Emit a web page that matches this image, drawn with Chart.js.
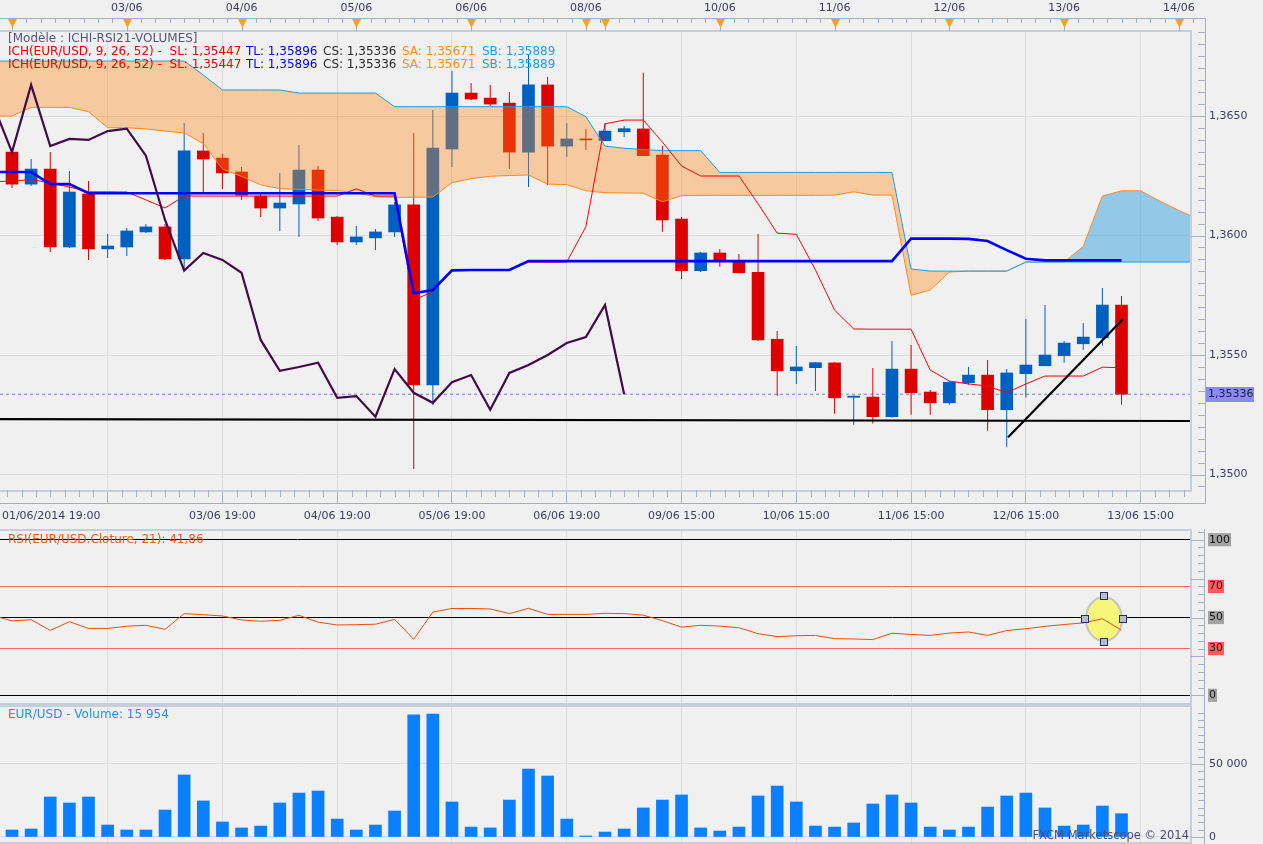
<!DOCTYPE html>
<html>
<head>
<meta charset="utf-8">
<title>EUR/USD - ICHI-RSI21-VOLUMES</title>
<script src="https://cdn.jsdelivr.net/npm/chart.js@4.4.0/dist/chart.umd.min.js"></script>
<style>
  html, body { margin:0; padding:0; background:#f0f0f0; width:1263px; height:844px; overflow:hidden; }
  canvas { position:absolute; left:0; display:block; }
  #cMain { top:0; }
  #cRsi { top:529px; }
  #cVol { top:705px; }
</style>
</head>
<body>
<canvas id="cMain" width="1263" height="529" style="width:1263px;height:529px"></canvas>
<canvas id="cRsi" width="1263" height="176" style="width:1263px;height:176px"></canvas>
<canvas id="cVol" width="1263" height="139" style="width:1263px;height:139px"></canvas>
<script>
// ================= DATA (4h candles, index 0 = first visible candle) =================
const opens  = [1.36349,1.36215,1.36278,1.35952,1.36174,1.35944,1.35952,1.36015,1.36036,1.35902,
                1.36354,1.36324,1.36266,1.36165,1.36115,1.36132,1.36274,1.36077,1.35973,1.35990,
                1.36015,1.36128,1.35375,1.36362,1.36596,1.36575,1.36554,1.36349,1.36630,1.36374,
                1.36404,1.36397,1.36434,1.36446,1.36337,1.36069,1.35853,1.35927,1.35893,1.35846,
                1.35566,1.35434,1.35447,1.35467,1.35323,1.35324,1.35242,1.35441,1.35345,1.35300,
                1.35384,1.35416,1.35271,1.35422,1.35455,1.35497,1.35547,1.35572,1.35709];
const highs  = [1.36362,1.36320,1.36349,1.36270,1.36228,1.36006,1.36031,1.36048,1.36048,1.36471,
                1.36429,1.36341,1.36287,1.36174,1.36262,1.36379,1.36291,1.36082,1.36040,1.36027,
                1.36140,1.36429,1.36525,1.36688,1.36638,1.36630,1.36600,1.36755,1.36663,1.36471,
                1.36446,1.36471,1.36458,1.36681,1.36376,1.36077,1.35931,1.35944,1.35923,1.36006,
                1.35600,1.35538,1.35471,1.35471,1.35331,1.35446,1.35559,1.35542,1.35354,1.35391,
                1.35450,1.35479,1.35441,1.35651,1.35709,1.35559,1.35634,1.35780,1.35747];
const lows   = [1.36199,1.36207,1.35931,1.35948,1.35898,1.35906,1.35914,1.36010,1.35898,1.35856,
                1.36182,1.36195,1.36149,1.36077,1.36019,1.35994,1.36061,1.35960,1.35960,1.35939,
                1.35994,1.35023,1.35291,1.36287,1.36567,1.36542,1.36278,1.36203,1.36211,1.36328,
                1.36358,1.36395,1.36412,1.36333,1.36016,1.35818,1.35847,1.35869,1.35843,1.35559,
                1.35330,1.35379,1.35349,1.35254,1.35208,1.35213,1.35238,1.35250,1.35250,1.35292,
                1.35376,1.35183,1.35116,1.35321,1.35455,1.35468,1.35522,1.35539,1.35292];
const closes = [1.36215,1.36278,1.35952,1.36182,1.35944,1.35956,1.36019,1.36036,1.35902,1.36354,
                1.36320,1.36262,1.36169,1.36115,1.36136,1.36274,1.36073,1.35973,1.35994,1.36015,
                1.36128,1.35375,1.36366,1.36596,1.36571,1.36550,1.36349,1.36630,1.36374,1.36404,
                1.36400,1.36437,1.36447,1.36334,1.36065,1.35853,1.35927,1.35898,1.35844,1.35563,
                1.35434,1.35450,1.35468,1.35321,1.35328,1.35242,1.35441,1.35342,1.35300,1.35386,
                1.35416,1.35271,1.35425,1.35458,1.35500,1.35550,1.35575,1.35709,1.35336];
const volumes = [4800,5500,27400,23300,27400,8200,4800,4800,18500,42500,
                 24700,10300,6200,7500,23300,30100,31500,12300,4800,8200,
                 17800,83600,84200,24000,6800,6200,25300,46600,41800,12300,
                 700,3400,5500,19900,25300,28800,6200,4100,6800,28100,
                 34900,24000,7500,6800,9600,22600,28800,23300,6800,4800,
                 6800,20500,28100,30100,19900,7500,8200,21200,15954];
// series below start one bar before the first visible candle (index -1)
const rsi21 = [51.3,
               47.8,48.6,41.7,47.3,43.0,43.0,44.4,45.0,42.4,52.5,
               51.8,51.0,48.4,47.6,48.2,51.4,47.0,45.2,45.4,45.7,
               48.8,36.0,53.5,55.8,55.8,55.5,52.5,55.9,52.0,52.0,
               52.0,52.7,52.5,51.5,48.0,43.8,45.0,44.5,43.4,39.6,
               37.7,38.3,38.5,36.4,36.2,35.8,39.9,39.1,38.5,40.0,
               40.7,38.5,41.6,42.8,44.3,45.5,46.5,49.2,41.86];
const tenkanTL = [1.36266,1.36266,1.36266,1.36215,1.36215,1.36177,
                  1.36177,1.36177,1.36177,1.36177,1.36177,1.36177,1.36177,1.36177,
                  1.36177,1.36177,1.36177,1.36177,1.36177,1.36177,1.36177,1.36177,
                  1.35758,1.35772,1.35854,1.35856,1.35856,1.35856,
                  1.35893,1.35893,1.35893,1.35893,1.35893,1.35893,1.35893,1.35893,1.35893,1.35893,
                  1.35893,1.35893,1.35893,1.35893,1.35893,1.35893,1.35893,1.35893,1.35893,1.35893,
                  1.35987,1.35987,1.35987,1.35986,1.35977,1.35939,1.35903,
                  1.35896,1.35896,1.35896,1.35896,1.35896];
const kijunSL = [1.36225,1.36228,1.36234,1.36220,1.36203,1.36183,1.36183,1.36182,1.36149,1.36115,1.36165,
                 1.36165,1.36165,1.36165,1.36165,1.36165,1.36165,1.36165,1.36165,
                 1.36195,1.36165,1.36165,
                 1.35730,1.35765,1.35854,1.35856,1.35856,1.35856,
                 1.35889,1.35889,1.35889,
                 1.36037,1.36467,1.36483,1.36483,1.36391,1.36291,
                 1.36249,1.36249,1.36249,
                 1.36133,1.36010,1.36005,1.35856,1.35688,1.35609,
                 1.35608,1.35608,1.35608,
                 1.35437,1.35391,1.35379,1.35370,1.35342,1.35379,
                 1.35412,1.35412,1.35412,
                 1.35449,1.35447];
const chikouCS = [1.36550,1.36349,1.36630,1.36374,1.36404,1.36400,1.36437,1.36447,1.36334,1.36065,
                  1.35853,1.35927,1.35898,1.35844,1.35563,1.35434,1.35450,1.35468,1.35321,1.35328,
                  1.35242,1.35441,1.35342,1.35300,1.35386,1.35416,1.35271,1.35425,1.35458,1.35500,
                  1.35550,1.35575,1.35709,1.35336];
const senkouSA = [1.36500,1.36500,1.36536,1.36536,1.36536,1.36518,1.36451,1.36451,1.36446,1.36437,1.36429,
                  1.36385,1.36278,1.36247,1.36212,1.36196,1.36193,1.36190,1.36188,1.36178,1.36162,
                  1.36160,1.36160,1.36161,1.36221,1.36238,1.36248,1.36251,1.36253,1.36215,1.36213,
                  1.36187,1.36179,1.36178,1.36177,1.36141,1.36167,1.36168,1.36168,1.36168,1.36168,
                  1.36168,1.36168,1.36168,1.36169,1.36183,1.36169,1.36169,1.35750,1.35772,1.35847,
                  1.35851,1.35851,1.35851,1.35889,1.35889,1.35889,1.35954,1.36165,1.36187,1.36187,
                  1.36144,1.36105,1.36069];
const senkouSB = [1.36730,1.36730,1.36730,1.36730,1.36730,1.36730,1.36730,1.36730,1.36730,1.36730,1.36730,
                  1.36672,
                  1.36609,1.36609,1.36609,1.36609,
                  1.36596,1.36596,1.36596,1.36596,1.36596,
                  1.36539,1.36539,1.36539,1.36539,1.36539,1.36539,1.36539,1.36539,1.36539,1.36539,
                  1.36497,1.36374,1.36365,1.36360,
                  1.36355,1.36355,1.36355,
                  1.36264,1.36264,1.36264,1.36264,1.36264,1.36264,1.36264,1.36264,1.36264,1.36264,
                  1.35860,
                  1.35851,1.35851,1.35851,1.35851,1.35851,
                  1.35889,1.35889,1.35889,1.35889,1.35889,1.35889,1.35889,1.35889,1.35889,1.35889];
const lastClose = 1.35336;
const supportLineX = [-0.627, 61.58];
const supportLineY = [1.35232, 1.35224];
const trendLineX = [52.07, 58.07];
const trendLineY = [1.351556, 1.356494];
const legendValues = { SL:'1,35447', TL:'1,35896', CS:'1,35336', SA:'1,35671', SB:'1,35889' };

// axis ticks & labels
const priceTicks = [1.3500, 1.3550, 1.3600, 1.3650];
const bottomTickPos = [2.05, 5, 11, 17, 23, 29, 35, 41, 47, 53, 59];
const bottomTickLabels = ['01/06/2014 19:00', '', '03/06 19:00', '04/06 19:00', '05/06 19:00', '06/06 19:00',
                          '09/06 15:00', '10/06 15:00', '11/06 15:00', '12/06 15:00', '13/06 15:00'];
const gridPos = [5, 11, 17, 23, 29, 35, 41, 47, 53, 59];
const dayMarkerPos = [0, 6, 12, 18, 24, 30, 31, 37, 43, 49, 55, 61];
const dayMarkerLabels = ['', '03/06', '04/06', '05/06', '06/06', '08/06', '', '10/06', '11/06', '12/06', '13/06', '14/06'];
const rsiLevels = [0, 30, 50, 70, 100];
const volumeTicks = [0, 50000];
const rsiHighlight = { x: 57.08, y: 49.0 };

// ================= STYLE =================
const X_MIN = -0.627, X_MAX = 61.58;
const Y_MIN = 1.349352, Y_MAX = 1.368515;
const RSI_MIN = -4.95, RSI_MAX = 105.6;
const VOL_MIN = -3425, VOL_MAX = 89041;
const LABEL_COLOR = '#3c3c64';
const GRID = '#dcdcdf';
const AXIS = '#a4b0c2';
const FRAME = '#c6cedb';
const BULL = '#0060c0', BEAR = '#dc0000';
const FONT = "'DejaVu Sans', Verdana, sans-serif";

Chart.defaults.font.family = FONT;
Chart.defaults.font.size = 11;
Chart.defaults.color = LABEL_COLOR;

function pts(arr, start) { return arr.map((v, k) => ({ x: start + k, y: v })); }
function fixSize(w, h) {
  return (s) => {
    if (w !== null) s.width = w;
    if (h !== null) s.height = h;
    s.paddingLeft = 0; s.paddingRight = 0; s.paddingTop = 0; s.paddingBottom = 0;
  };
}
function fmtThousands(v) { return String(v).replace(/\B(?=(\d{3})+(?!\d))/g, ' '); }
function drawFrame(g, a) {
  g.save();
  g.strokeStyle = FRAME; g.lineWidth = 2;
  g.beginPath();
  g.moveTo(0, a.top - 1); g.lineTo(a.right + 1, a.top - 1);
  g.lineTo(a.right + 1, a.bottom + 1); g.lineTo(0, a.bottom + 1);
  g.stroke();
  g.restore();
}
const bgPlugin = {
  id: 'bg',
  beforeDraw(c) { const g = c.ctx; g.save(); g.fillStyle = '#f0f0f0'; g.fillRect(0, 0, c.width, c.height); g.restore(); }
};

// ================= MAIN PANEL =================
const candleColors = opens.map((o, i) => closes[i] >= o ? BULL : BEAR);

const mainDeco = {
  id: 'mainDeco',
  afterDraw(c) {
    const g = c.ctx, xs = c.scales.x, ys = c.scales.y, a = c.chartArea;
    drawFrame(g, a);
    g.save();
    g.strokeStyle = AXIS; g.lineWidth = 1;
    g.beginPath();
    g.moveTo(0, 18.5); g.lineTo(1205.5, 18.5);
    g.moveTo(1205.5, 18); g.lineTo(1205.5, 504);
    g.moveTo(0, 503.5); g.lineTo(1205.5, 503.5);
    // top minor ticks (every 3h)
    for (let k = 0; k < dayMarkerPos.length; k++) {
      const s = dayMarkerPos[k];
      const e = k + 1 < dayMarkerPos.length ? dayMarkerPos[k + 1] : X_MAX + 1;
      for (let j = 1; s + 0.75 * j < e - 0.05; j++) {
        const px = Math.round(xs.getPixelForValue(s + 0.75 * j)) + 0.5;
        if (px > 1204) break;
        g.moveTo(px, 18); g.lineTo(px, 23);
      }
    }
    // bottom minor ticks
    for (let j = 0; j < 100; j++) {
      const t = -1 + 0.75 * j;
      if (t > X_MAX) break;
      if (t < X_MIN) continue;
      if (j % 8 === 0) continue;
      const px = Math.round(xs.getPixelForValue(t)) + 0.5;
      g.moveTo(px, a.bottom); g.lineTo(px, a.bottom + 7);
    }
    // right price ticks
    for (let k = 13490; k <= 13690; k += 5) {
      const yy = Math.round(ys.getPixelForValue(k / 10000)) + 0.5;
      if (yy < a.top || yy > a.bottom) continue;
      g.moveTo(k % 50 === 0 ? a.right + 1 : 1198, yy); g.lineTo(1205, yy);
    }
    // day marker stems
    dayMarkerPos.forEach(v => { const px = Math.round(xs.getPixelForValue(v)) + 0.5; g.moveTo(px, 26); g.lineTo(px, 31); });
    g.stroke();
    // day marker triangles
    g.fillStyle = '#f7a21e';
    dayMarkerPos.forEach(v => {
      const px = Math.round(xs.getPixelForValue(v)) + 0.5;
      g.beginPath(); g.moveTo(px - 4.5, 19); g.lineTo(px + 4.5, 19); g.lineTo(px, 28); g.closePath(); g.fill();
    });
    // legend
    g.font = '12px ' + FONT; g.textBaseline = 'middle'; g.textAlign = 'left';
    g.fillStyle = '#55557c';
    g.fillText('[Modèle : ICHI-RSI21-VOLUMES]', 8, 39);
    const parts = [
      { t: 'ICH(EUR/USD, 9, 26, 52) -  SL: ' + legendValues.SL, x: 8, c: '#ee0000' },
      { t: 'TL: ' + legendValues.TL, x: 246, c: '#0000ee' },
      { t: 'CS: ' + legendValues.CS, x: 323, c: '#2a2a2a' },
      { t: 'SA: ' + legendValues.SA, x: 402, c: '#ff8c1a' },
      { t: 'SB: ' + legendValues.SB, x: 482, c: '#1ea0f0' }
    ];
    [52, 65].forEach(yy => parts.forEach(p => { g.fillStyle = p.c; g.fillText(p.t, p.x, yy); }));
    // last price label
    g.font = '11px ' + FONT;
    const py = ys.getPixelForValue(lastClose);
    g.fillStyle = '#8a8af2'; g.fillRect(1206, Math.round(py) - 7, 48, 15);
    g.fillStyle = '#1a1a4a'; g.fillText(lastClose.toFixed(5).replace('.', ','), 1208, Math.round(py) + 0.5);
    g.restore();
  }
};

new Chart(document.getElementById('cMain'), {
  type: 'line',
  data: {
    datasets: [
      { type: 'bar', label: 'wick', data: opens.map((_, i) => ({ x: i, y: [lows[i], highs[i]] })),
        backgroundColor: candleColors, barThickness: 1, maxBarThickness: 1, grouped: false, borderWidth: 0, inflateAmount: 0, order: 20 },
      { type: 'bar', label: 'body', data: opens.map((_, i) => ({ x: i, y: [opens[i], closes[i]] })),
        backgroundColor: candleColors, barThickness: 12, maxBarThickness: 12, grouped: false, borderWidth: 0, minBarLength: 1, order: 19 },
      { type: 'line', label: 'SB', data: pts(senkouSB, -1), borderColor: '#1c9fe6', borderWidth: 1, pointRadius: 0, tension: 0, fill: false, order: 9 },
      { type: 'line', label: 'SA', data: pts(senkouSA, -1), borderColor: '#ff8a1e', borderWidth: 1, pointRadius: 0, tension: 0,
        fill: { target: 2, above: 'rgba(70,170,225,0.55)', below: 'rgba(255,138,25,0.38)' }, order: 10 },
      { type: 'line', label: 'close', data: [{ x: X_MIN, y: lastClose }, { x: X_MAX, y: lastClose }],
        borderColor: '#7a7aea', borderWidth: 1, borderDash: [3, 3], pointRadius: 0, fill: false, order: 21 },
      { type: 'line', label: 'SL', data: pts(kijunSL, -1), borderColor: '#ff0000', borderWidth: 1, pointRadius: 0, tension: 0, fill: false, order: 5 },
      { type: 'line', label: 'TL', data: pts(tenkanTL, -1), borderColor: '#0000ff', borderWidth: 2.6, pointRadius: 0, tension: 0, fill: false, order: 4 },
      { type: 'line', label: 'CS', data: pts(chikouCS, -1), borderColor: '#420a48', borderWidth: 2.2, pointRadius: 0, tension: 0, fill: false, order: 3 },
      { type: 'line', label: 'support', data: supportLineX.map((x, k) => ({ x, y: supportLineY[k] })), borderColor: '#000000', borderWidth: 2.2, pointRadius: 0, fill: false, order: 2 },
      { type: 'line', label: 'trend', data: trendLineX.map((x, k) => ({ x, y: trendLineY[k] })), borderColor: '#000000', borderWidth: 2.2, pointRadius: 0, fill: false, order: 1 }
    ]
  },
  options: {
    responsive: false, animation: false, events: [],
    layout: { padding: 0 },
    plugins: { legend: { display: false }, tooltip: { enabled: false } },
    scales: {
      x: {
        type: 'linear', position: 'bottom', min: X_MIN, max: X_MAX, offset: false,
        afterBuildTicks: s => { s.ticks = bottomTickPos.map(v => ({ value: v })); },
        afterFit: fixSize(null, 39),
        ticks: { autoSkip: false, maxRotation: 0, minRotation: 0, padding: 7, color: LABEL_COLOR, callback: (v, k) => bottomTickLabels[k] },
        grid: { offset: false, lineWidth: 1, tickLength: 13, drawTicks: true,
                color: c => c.index === 0 ? 'rgba(0,0,0,0)' : GRID,
                tickColor: c => c.index === 0 ? 'rgba(0,0,0,0)' : AXIS },
        border: { display: false }
      },
      x2: {
        type: 'linear', position: 'top', min: X_MIN, max: X_MAX, offset: false,
        afterBuildTicks: s => { s.ticks = dayMarkerPos.map(v => ({ value: v })); },
        afterFit: fixSize(null, 32),
        ticks: { autoSkip: false, maxRotation: 0, minRotation: 0, padding: 17, color: LABEL_COLOR, callback: (v, k) => dayMarkerLabels[k] },
        grid: { display: false, drawTicks: false },
        border: { display: false }
      },
      y: {
        position: 'right', min: Y_MIN, max: Y_MAX,
        afterBuildTicks: s => { s.ticks = priceTicks.map(v => ({ value: v })); },
        afterFit: fixSize(73, null),
        ticks: { padding: 19, color: LABEL_COLOR, callback: v => v.toFixed(4).replace('.', ',') },
        grid: { color: GRID, drawTicks: false, lineWidth: 1 },
        border: { display: false }
      }
    }
  },
  plugins: [bgPlugin, mainDeco]
});

// ================= RSI PANEL =================
const rsiDeco = {
  id: 'rsiDeco',
  beforeDatasetsDraw(c) {
    const g = c.ctx, xs = c.scales.x, ys = c.scales.y;
    const cx = xs.getPixelForValue(rsiHighlight.x), cy = ys.getPixelForValue(rsiHighlight.y);
    g.save();
    g.beginPath(); g.ellipse(cx, cy, 18, 22, 0, 0, Math.PI * 2);
    g.fillStyle = '#f6f67a'; g.fill();
    g.strokeStyle = '#c4c4c4'; g.lineWidth = 2; g.stroke();
    g.restore();
  },
  afterDraw(c) {
    const g = c.ctx, xs = c.scales.x, ys = c.scales.y, a = c.chartArea;
    drawFrame(g, a);
    g.save();
    g.strokeStyle = AXIS; g.lineWidth = 1;
    g.beginPath();
    g.moveTo(1204.5, a.top - 2); g.lineTo(1204.5, a.bottom + 2);
    for (let v = 0; v <= 105; v += 5) {
      const yy = Math.round(ys.getPixelForValue(v)) + 0.5;
      g.moveTo(v % 25 === 0 ? a.right + 1 : 1198, yy); g.lineTo(1204.5, yy);
    }
    g.stroke();
    g.font = '12px ' + FONT; g.textBaseline = 'middle'; g.textAlign = 'left';
    g.fillStyle = '#e8581e';
    g.fillText('RSI(EUR/USD.Cloture, 21): ' + rsi21[rsi21.length - 1].toFixed(2).replace('.', ','), 8, a.top + 9);
    // highlight handles
    const cx = xs.getPixelForValue(rsiHighlight.x), cy = ys.getPixelForValue(rsiHighlight.y);
    g.fillStyle = '#b9bccb'; g.strokeStyle = '#2c2c5c';
    [[0, -23], [0, 23], [-19, 0], [19, 0]].forEach(([dx, dy]) => {
      const hx = Math.round(cx + dx) - 3.5, hy = Math.round(cy + dy) - 3.5;
      g.fillRect(hx, hy, 7, 7); g.strokeRect(hx, hy, 7, 7);
    });
    g.restore();
  }
};

new Chart(document.getElementById('cRsi'), {
  type: 'line',
  data: { datasets: [
    { label: 'RSI', data: pts(rsi21, -1), borderColor: '#e85010', borderWidth: 1, pointRadius: 0, tension: 0, fill: false }
  ] },
  options: {
    responsive: false, animation: false, events: [],
    layout: { padding: { top: 2, bottom: 2, left: 0, right: 0 } },
    plugins: { legend: { display: false }, tooltip: { enabled: false } },
    scales: {
      x: {
        type: 'linear', min: X_MIN, max: X_MAX, offset: false,
        afterBuildTicks: s => { s.ticks = gridPos.map(v => ({ value: v })); },
        afterFit: fixSize(null, 0),
        ticks: { display: false },
        grid: { color: GRID, drawTicks: false, offset: false },
        border: { display: false }
      },
      y: {
        position: 'right', min: RSI_MIN, max: RSI_MAX,
        afterBuildTicks: s => { s.ticks = rsiLevels.map(v => ({ value: v })); },
        afterFit: fixSize(73, null),
        ticks: {
          padding: 19, color: '#141414', showLabelBackdrop: true,
          backdropColor: c => (c.tick && (c.tick.value === 30 || c.tick.value === 70)) ? '#ff5b5b' : '#a3a3a3',
          backdropPadding: { top: 0, bottom: 0, left: 1, right: 1 },
          callback: v => String(v)
        },
        grid: {
          color: c => (c.tick && (c.tick.value === 30 || c.tick.value === 70)) ? '#f26a6a' : '#000000',
          drawTicks: false, lineWidth: 1
        },
        border: { display: false }
      }
    }
  },
  plugins: [bgPlugin, rsiDeco]
});

// ================= VOLUME PANEL =================
const volDeco = {
  id: 'volDeco',
  afterDraw(c) {
    const g = c.ctx, ys = c.scales.y, a = c.chartArea;
    drawFrame(g, a);
    g.save();
    g.strokeStyle = AXIS; g.lineWidth = 1;
    g.beginPath();
    g.moveTo(1204.5, a.top - 2); g.lineTo(1204.5, a.bottom + 2);
    for (let v = 0; v <= 85000; v += 5000) {
      const yy = Math.round(ys.getPixelForValue(v)) + 0.5;
      if (yy < a.top) continue;
      g.moveTo(v % 50000 === 0 ? a.right + 1 : 1198, yy); g.lineTo(1204.5, yy);
    }
    g.stroke();
    g.font = '12px ' + FONT; g.textBaseline = 'middle';
    g.textAlign = 'left'; g.fillStyle = '#2e8cf0';
    g.fillText('EUR/USD - Volume: ' + fmtThousands(volumes[volumes.length - 1]), 8, a.top + 8);
    g.font = '11.5px ' + FONT;
    g.textAlign = 'right'; g.fillStyle = '#4a4a6c';
    g.fillText('FXCM Marketscope © 2014', a.right - 1, a.bottom - 6);
    g.restore();
  }
};

new Chart(document.getElementById('cVol'), {
  type: 'bar',
  data: { datasets: [
    { label: 'Volume', data: pts(volumes, 0), backgroundColor: '#0a80ff', borderWidth: 0, barThickness: 12 }
  ] },
  options: {
    responsive: false, animation: false, events: [],
    layout: { padding: { top: 2, bottom: 2, left: 0, right: 0 } },
    plugins: { legend: { display: false }, tooltip: { enabled: false } },
    scales: {
      x: {
        type: 'linear', min: X_MIN, max: X_MAX, offset: false,
        afterBuildTicks: s => { s.ticks = gridPos.map(v => ({ value: v })); },
        afterFit: fixSize(null, 0),
        ticks: { display: false },
        grid: { color: GRID, drawTicks: false, offset: false },
        border: { display: false }
      },
      y: {
        position: 'right', min: VOL_MIN, max: VOL_MAX,
        afterBuildTicks: s => { s.ticks = volumeTicks.map(v => ({ value: v })); },
        afterFit: fixSize(73, null),
        ticks: { padding: 19, color: LABEL_COLOR, callback: v => fmtThousands(v) },
        grid: { color: GRID, drawTicks: false, lineWidth: 1 },
        border: { display: false }
      }
    }
  },
  plugins: [bgPlugin, volDeco]
});
</script>
</body>
</html>
